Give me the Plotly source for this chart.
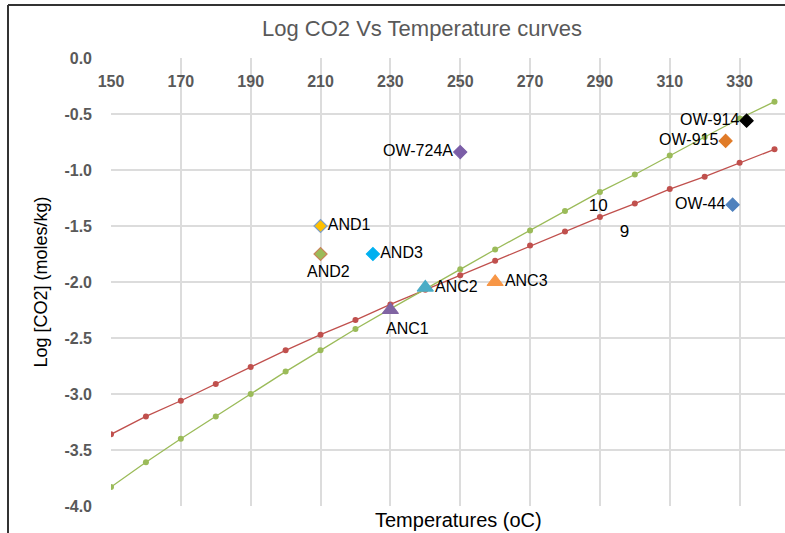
import plotly.graph_objects as go

temps = [150, 160, 170, 180, 190, 200, 210, 220, 230, 240, 250, 260, 270, 280, 290, 300, 310, 320, 330, 340]
curve9 = [-3.36, -3.20, -3.06, -2.91, -2.76, -2.61, -2.47, -2.34, -2.20, -2.07, -1.94, -1.81, -1.675, -1.55, -1.42, -1.30, -1.17, -1.06, -0.935, -0.815]
curve10 = [-3.83, -3.61, -3.40, -3.20, -3.00, -2.80, -2.61, -2.42, -2.24, -2.06, -1.887, -1.71, -1.54, -1.365, -1.196, -1.04, -0.87, -0.705, -0.54, -0.39]

well_names = ["OW-724A", "AND1", "AND2", "AND3", "ANC2", "ANC1", "ANC3", "OW-914", "OW-915", "OW-44"]
well_temp = [250, 210, 210, 225, 240, 230, 260, 332, 326, 328]
well_logco2 = [-0.84, -1.50, -1.75, -1.75, -2.05, -2.25, -2.00, -0.56, -0.74, -1.31]
well_symbol = ["diamond", "diamond", "diamond", "diamond", "triangle-up", "triangle-up", "triangle-up", "diamond", "diamond", "diamond"]
well_color = ["#7B5EA7", "#FFC000", "#9BBB59", "#00B0F0", "#4BACC6", "#8064A2", "#F79646", "#000000", "#E07B28", "#4F81BD"]
well_line = ["#7B5EA7", "#7F9FC8", "#C9845A", "#00B0F0", "#4BACC6", "#8064A2", "#F79646", "#000000", "#E07B28", "#4F81BD"]
# label placement: (textposition for trace text) or None when placed as annotation below the marker
well_textpos = ["middle left", "middle right", None, "middle right", "middle right", None, "middle right", "middle left", "middle left", "middle left"]
below_label_shift = {"AND2": (8, -7), "ANC1": (17, -8)}

curve_labels = ["10", "9"]
curve_label_x = [289.5, 297]
curve_label_y = [-1.33, -1.56]

x_tickvals = [150, 170, 190, 210, 230, 250, 270, 290, 310, 330]
x_ticktext = ["150", "170", "190", "210", "230", "250", "270", "290", "310", "330"]
y_tickvals = [0, -0.5, -1, -1.5, -2, -2.5, -3, -3.5, -4]
y_ticktext = ["0.0", "-0.5", "-1.0", "-1.5", "-2.0", "-2.5", "-3.0", "-3.5", "-4.0"]

label_font = dict(family="Liberation Sans, Arial", size=16, color="#000000")

fig = go.Figure()

fig.add_trace(go.Scatter(x=temps, y=curve9, mode="lines+markers",
                         line=dict(color="#C0504D", width=1.3),
                         marker=dict(color="#C0504D", size=6), showlegend=False))
fig.add_trace(go.Scatter(x=temps, y=curve10, mode="lines+markers",
                         line=dict(color="#9BBB59", width=1.3),
                         marker=dict(color="#9BBB59", size=6), showlegend=False))

annotations = []
for i in range(len(well_names)):
    sz = 14 if well_symbol[i] == "triangle-up" else 10
    pos = well_textpos[i]
    fig.add_trace(go.Scatter(
        x=[well_temp[i]], y=[well_logco2[i]],
        mode="markers+text" if pos else "markers",
        text=[well_names[i]] if pos else None,
        textposition=pos if pos else None,
        textfont=label_font,
        marker=dict(symbol=well_symbol[i], size=sz, color=well_color[i],
                    line=dict(color=well_line[i], width=1.2)),
        showlegend=False))
    if not pos:
        xs, ys = below_label_shift[well_names[i]]
        annotations.append(dict(text=well_names[i], x=well_temp[i], y=well_logco2[i],
                                xref="x", yref="y", xanchor="center", yanchor="top",
                                xshift=xs, yshift=ys, showarrow=False, font=label_font))

fig.add_trace(go.Scatter(x=curve_label_x, y=curve_label_y, mode="text", text=curve_labels,
                         textfont=dict(family="Liberation Sans, Arial", size=17, color="#000000"),
                         showlegend=False))

L, T, B, R = 111, 58, 27, 0
W, H = 785, 533
pw, ph = W - L - R, H - T - B

def px_x(p):
    return (p - L) / pw

def px_y(p):
    return (H - B - p) / ph

tick_font = dict(family="Liberation Sans, Arial", size=16, color="#595959", weight="bold")

annotations.append(dict(text="Temperatures (oC)", xref="paper", yref="paper",
                        x=px_x(459), y=px_y(520), xanchor="center", yanchor="middle", showarrow=False,
                        font=dict(family="Liberation Sans, Arial", size=20, color="#000000")))

fig.update_layout(
    width=W, height=H,
    margin=dict(l=L, r=R, t=T, b=B, pad=0),
    paper_bgcolor="white", plot_bgcolor="white",
    title=dict(text="Log CO2 Vs Temperature curves", x=422 / W, xanchor="center",
               y=1 - 28 / H, yanchor="middle",
               font=dict(family="Liberation Sans, Arial", size=22, color="#595959")),
    xaxis=dict(range=[150, 343], side="bottom", anchor="free", position=1.0,
               tickmode="array", tickvals=x_tickvals, ticktext=x_ticktext,
               showgrid=True, gridcolor="#DCDCDC", gridwidth=1.5, zeroline=False,
               showline=False, ticks="", ticklabelstandoff=12, tickfont=tick_font),
    yaxis=dict(range=[-4, 0], tickmode="array", tickvals=y_tickvals, ticktext=y_ticktext,
               showgrid=True, gridcolor="#DCDCDC", gridwidth=1.5, zeroline=False,
               showline=False, ticks="", ticklabelstandoff=18,
               title=dict(text="Log [CO2] (moles/kg)", standoff=12,
                          font=dict(family="Liberation Sans, Arial", size=18, color="#000000")),
               tickfont=tick_font),
    annotations=annotations,
    shapes=[
        dict(type="line", xref="paper", yref="paper", x0=px_x(8), x1=px_x(8), y0=px_y(5), y1=px_y(540),
             line=dict(color="#333333", width=2)),
        dict(type="line", xref="paper", yref="paper", x0=px_x(8), x1=px_x(790), y0=px_y(5), y1=px_y(5),
             line=dict(color="#333333", width=2)),
    ],
)

fig.write_html("out.html")
